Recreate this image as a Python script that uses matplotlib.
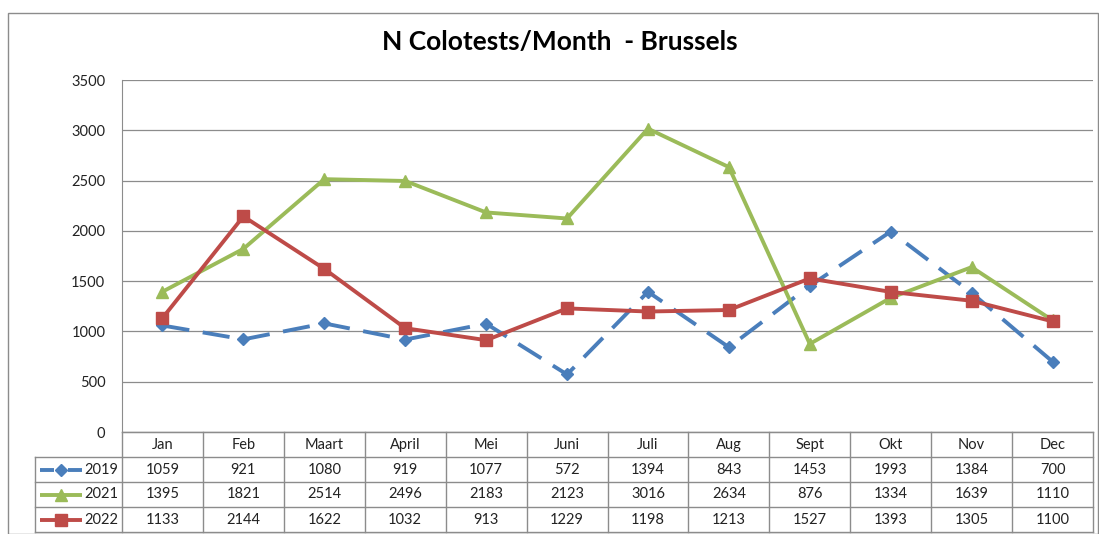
import matplotlib.pyplot as plt
from matplotlib.lines import Line2D
from matplotlib.patches import Rectangle

plt.rcParams['font.family'] = ['Lato', 'DejaVu Sans']

# Data
maanden = ['Jan', 'Feb', 'Maart', 'April', 'Mei', 'Juni', 'Juli', 'Aug', 'Sept', 'Okt', 'Nov', 'Dec']
jaren = ['2019', '2021', '2022']
n2019 = [1059, 921, 1080, 919, 1077, 572, 1394, 843, 1453, 1993, 1384, 700]
n2021 = [1395, 1821, 2514, 2496, 2183, 2123, 3016, 2634, 876, 1334, 1639, 1110]
n2022 = [1133, 2144, 1622, 1032, 913, 1229, 1198, 1213, 1527, 1393, 1305, 1100]

series = [n2019, n2021, n2022]
kleuren = ['#4A7EBB', '#9BBB59', '#BE4B48']
markers = ['D', '^', 's']
stijlen = [(0, (7, 3.5)), '-', '-']
msizes = [6, 8, 8]

W, H = 1099, 534
fig = plt.figure(figsize=(W / 100, H / 100), dpi=100)

# rand rond de grafiek
fig.patches.append(Rectangle((8 / W, 0), (W - 8) / W - 0.001, (H - 13) / H,
                             transform=fig.transFigure, fill=False,
                             edgecolor='#8c8c8c', linewidth=1))

ax_l, ax_r, ax_t, ax_b = 122, 1093, 80, 432
ax = fig.add_axes([ax_l / W, 1 - ax_b / H, (ax_r - ax_l) / W, (ax_b - ax_t) / H])

x = list(range(len(maanden)))
for vals, c, m, ls, ms in zip(series, kleuren, markers, stijlen, msizes):
    ax.plot(x, vals, color=c, linestyle=ls, linewidth=2.8, marker=m,
            markersize=ms, markerfacecolor=c, markeredgecolor=c, zorder=3)

ax.set_xlim(-0.5, len(maanden) - 0.5)
ax.set_ylim(0, 3500)
ax.set_yticks(range(0, 3501, 500))
ax.yaxis.grid(True, color='#8c8c8c', linewidth=0.9)
ax.set_axisbelow(True)
ax.set_xticks([])
ax.tick_params(axis='y', length=0, labelsize=10.5, pad=12, colors='#222222')
for s in ['top', 'right']:
    ax.spines[s].set_visible(False)
ax.spines['left'].set_color('#8c8c8c')
ax.spines['bottom'].set_color('#8c8c8c')

fig.text(560 / W, 1 - 42 / H, 'N Colotests/Month  - Brussels', ha='center', va='center',
         fontsize=19, fontweight='bold')

# datatabel onder de grafiek, in pixels van de figuur
lijn = dict(color='#8c8c8c', linewidth=1)
rijen_y = [432, 457, 482, 507, 532]
kol_x = [ax_l + (ax_r - ax_l) * i / len(maanden) for i in range(len(maanden) + 1)]
tab_l = 35

def fx(px):
    return px / W

def fy(py):
    return 1 - py / H

# horizontale lijnen
fig.add_artist(Line2D([fx(ax_l), fx(ax_r)], [fy(432), fy(432)], **lijn))
for yy in rijen_y[1:]:
    fig.add_artist(Line2D([fx(tab_l), fx(ax_r)], [fy(yy), fy(yy)], **lijn))
# verticale lijnen
for xx in kol_x:
    fig.add_artist(Line2D([fx(xx), fx(xx)], [fy(432), fy(532)], **lijn))
fig.add_artist(Line2D([fx(tab_l), fx(tab_l)], [fy(457), fy(532)], **lijn))

# kop
for i, mnd in enumerate(maanden):
    xc = (kol_x[i] + kol_x[i + 1]) / 2
    fig.text(fx(xc), fy(445), mnd, ha='center', va='center', fontsize=10.5, color='#222222')

# rijen
for r, (jaar, vals, c, m, ls, ms) in enumerate(zip(jaren, series, kleuren, markers, stijlen, msizes)):
    yc = (rijen_y[r + 1] + rijen_y[r + 2]) / 2
    if ls == '-':
        stukken = [(40, 82)]
    else:
        stukken = [(40, 54), (68, 82)]
    for a, b in stukken:
        fig.add_artist(Line2D([fx(a), fx(b)], [fy(yc), fy(yc)], color=c, linewidth=2.8,
                              solid_capstyle='butt'))
    fig.add_artist(Line2D([fx(61)], [fy(yc)], color=c, marker=m, markersize=ms,
                          markerfacecolor=c, markeredgecolor=c))
    fig.text(fx(118), fy(yc), jaar, ha='right', va='center', fontsize=10.5, color='#222222')
    for i, v in enumerate(vals):
        xc = (kol_x[i] + kol_x[i + 1]) / 2
        fig.text(fx(xc), fy(yc), str(v), ha='center', va='center', fontsize=10.5, color='#222222')

fig.savefig('out.png', dpi=100)
